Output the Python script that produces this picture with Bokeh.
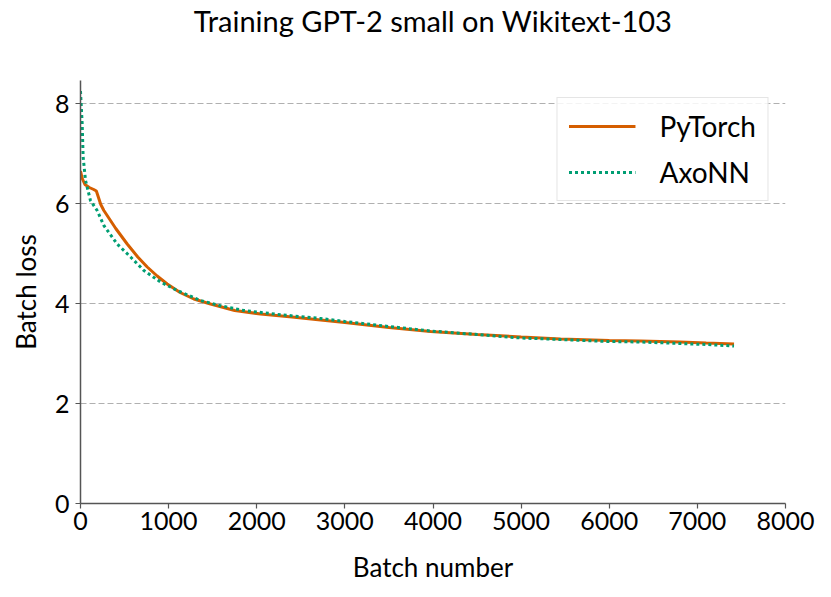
from bokeh.plotting import figure
from bokeh.models import Range1d, FixedTicker, Legend, LegendItem, Title
from bokeh.embed import file_html
from bokeh.resources import INLINE

# ---- data ----
pytorch_x = [0, 20, 50, 100, 150, 180, 230, 265, 400, 530, 650, 757, 870, 984,
             1130, 1286, 1476, 1750, 2043, 2400, 2724, 3000, 3500, 3973, 4500,
             5000, 5448, 6000, 6356, 6800, 7100, 7416]
pytorch_y = [6.65, 6.50, 6.38, 6.32, 6.28, 6.25, 5.98, 5.86, 5.50, 5.19, 4.93,
             4.73, 4.55, 4.39, 4.22, 4.09, 3.99, 3.86, 3.79, 3.73, 3.67, 3.62,
             3.52, 3.44, 3.38, 3.33, 3.29, 3.26, 3.25, 3.23, 3.21, 3.19]

axonn_x = [0, 10, 19, 30, 57, 113, 189, 265, 416, 568, 719, 908, 1097, 1362,
           1600, 1854, 2300, 2724, 3000, 3500, 3973, 4500, 5000, 5448, 6000,
           6356, 6800, 7100, 7416]
axonn_y = [8.25, 7.90, 7.60, 6.93, 6.46, 6.06, 5.86, 5.56, 5.19, 4.93, 4.66,
           4.43, 4.26, 4.06, 3.95, 3.86, 3.77, 3.70, 3.64, 3.54, 3.45, 3.38,
           3.31, 3.28, 3.24, 3.23, 3.20, 3.18, 3.15]

x_ticks = [0, 1000, 2000, 3000, 4000, 5000, 6000, 7000, 8000]
y_ticks = [0, 2, 4, 6, 8]

title_text = "Training GPT-2 small on Wikitext-103"
x_label = "Batch number"
y_label = "Batch loss"
series_names = ["PyTorch", "AxoNN"]

FONT = "Lato"

p = figure(width=815, height=589, output_backend="svg", toolbar_location=None,
           x_range=Range1d(0, 8000), y_range=Range1d(0, 8.46),
           min_border_left=80, min_border_right=30, min_border_top=80,
           min_border_bottom=86)
p.outline_line_color = None
p.background_fill_color = "white"

p.title.text = ""
p.title.standoff = 0

# empty spacer between the frame and the title, then the title itself
spacer = Title(text=" ", text_font_size="1px", standoff=40)
p.add_layout(spacer, "above")
main_title = Title(text=title_text, align="center", vertical_align="bottom",
                   text_font=FONT, text_font_size="29px",
                   text_font_style="normal", text_color="black", standoff=0)
p.add_layout(main_title, "above")

for ax in (p.xaxis[0], p.yaxis[0]):
    ax.axis_line_color = "#555555"
    ax.axis_line_width = 1.5
    ax.major_tick_line_color = "#555555"
    ax.major_tick_line_width = 1.2
    ax.major_tick_out = 5
    ax.major_tick_in = 0
    ax.minor_tick_line_color = None
    ax.major_label_text_font = FONT
    ax.major_label_text_font_size = "25px"
    ax.major_label_text_color = "black"
    ax.axis_label_text_font = FONT
    ax.axis_label_text_font_size = "26px"
    ax.axis_label_text_font_style = "normal"
    ax.axis_label_text_color = "black"

p.xaxis[0].ticker = FixedTicker(ticks=x_ticks)
p.yaxis[0].ticker = FixedTicker(ticks=y_ticks)
p.xaxis[0].axis_label = x_label
p.yaxis[0].axis_label = y_label
p.xaxis[0].major_label_standoff = 3
p.yaxis[0].major_label_standoff = 6
p.xaxis[0].axis_label_standoff = 18
p.yaxis[0].axis_label_standoff = 10

p.xgrid.visible = False
p.ygrid.ticker = FixedTicker(ticks=y_ticks)
p.ygrid.grid_line_color = "#b0b0b0"
p.ygrid.grid_line_dash = "6 3"
p.ygrid.grid_line_width = 1

r1 = p.line(pytorch_x, pytorch_y, line_color="#D55E00", line_width=3)
r2 = p.line(axonn_x, axonn_y, line_color="#009E73", line_width=3,
            line_dash="3 3")

legend = Legend(items=[LegendItem(label=series_names[0], renderers=[r1]),
                       LegendItem(label=series_names[1], renderers=[r2])],
                location="top_right", margin=17, padding=11, spacing=12,
                glyph_width=67, glyph_height=32, label_standoff=24,
                label_text_font=FONT, label_text_font_size="28px",
                label_text_color="black",
                border_line_color="#cccccc", border_line_width=1.2,
                background_fill_color="white", background_fill_alpha=0.85)
p.add_layout(legend)

open("out.html", "w").write(file_html(p, INLINE))
